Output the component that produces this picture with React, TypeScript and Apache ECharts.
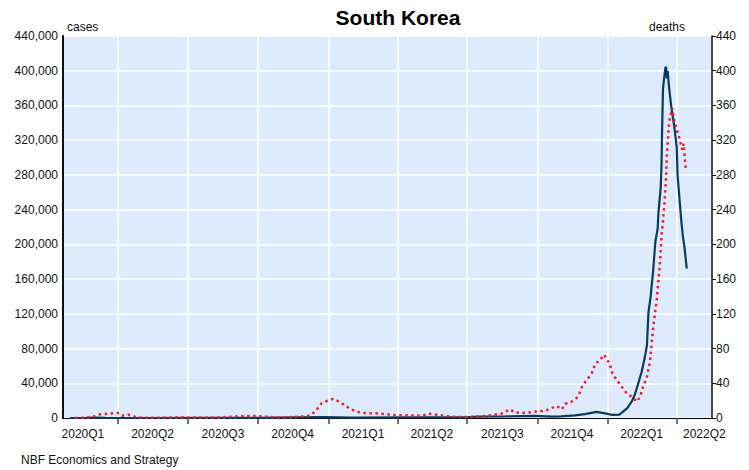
import React, { useEffect, useRef } from "react";
import * as echarts from "echarts";

// ---- Data ----
const caseDates = [
  "2020-01-29", "2020-02-20", "2020-03-01", "2020-03-15", "2020-05-01", "2020-08-28", "2020-09-20",
  "2020-12-25", "2021-02-01", "2021-04-20", "2021-07-01", "2021-07-14", "2021-08-20", "2021-09-28",
  "2021-10-20", "2021-11-01", "2021-11-19", "2021-12-02", "2021-12-17", "2021-12-30", "2022-01-07",
  "2022-01-16", "2022-01-26", "2022-02-01", "2022-02-05", "2022-02-09", "2022-02-14", "2022-02-18",
  "2022-02-21", "2022-02-22", "2022-02-23", "2022-02-26", "2022-02-27", "2022-03-01", "2022-03-04",
  "2022-03-07", "2022-03-08", "2022-03-11", "2022-03-12", "2022-03-13", "2022-03-14", "2022-03-17",
  "2022-03-18", "2022-03-19", "2022-03-20", "2022-03-22", "2022-03-25", "2022-03-29", "2022-04-01",
  "2022-04-02", "2022-04-05", "2022-04-07", "2022-04-09", "2022-04-11", "2022-04-14",
];
const caseValues = [
  0, 100, 600, 100, 10, 300, 100,
  1000, 400, 650, 700, 1500, 1800, 2500,
  1500, 1800, 3000, 4500, 7000, 5000, 3500,
  4000, 11000, 18800, 26500, 38000, 53000, 69000,
  84000, 103000, 122000, 141000, 151000, 168500, 203000,
  218000, 236000, 266000, 290000, 341000, 380000, 403000,
  404600, 391000, 400000, 380000, 357000, 334000, 311000,
  280000, 247000, 226000, 209000, 197000, 172000,
];

const deathDates = [
  "2020-02-05", "2020-02-18", "2020-03-02", "2020-03-06", "2020-03-15", "2020-03-24", "2020-03-31",
  "2020-04-06", "2020-04-14", "2020-04-21", "2020-04-27", "2020-05-20", "2020-06-20", "2020-07-20",
  "2020-08-10", "2020-08-28", "2020-09-14", "2020-09-23", "2020-10-03", "2020-10-20", "2020-11-12",
  "2020-12-04", "2020-12-10", "2020-12-14", "2020-12-23", "2020-12-30", "2021-01-07", "2021-01-13",
  "2021-01-22", "2021-01-29", "2021-02-08", "2021-02-20", "2021-03-05", "2021-03-18", "2021-03-29",
  "2021-04-21", "2021-05-04", "2021-05-11", "2021-05-23", "2021-06-09", "2021-06-25", "2021-07-18",
  "2021-07-31", "2021-08-15", "2021-08-26", "2021-09-01", "2021-09-10", "2021-09-21", "2021-10-04",
  "2021-10-10", "2021-10-17", "2021-10-26", "2021-11-02", "2021-11-06", "2021-11-12", "2021-11-21",
  "2021-11-25", "2021-11-29", "2021-12-04", "2021-12-11", "2021-12-16", "2021-12-21", "2021-12-27",
  "2021-12-31", "2022-01-03", "2022-01-07", "2022-01-14", "2022-01-19", "2022-01-26", "2022-02-01",
  "2022-02-08", "2022-02-12", "2022-02-16", "2022-02-21", "2022-02-25", "2022-02-27", "2022-03-01",
  "2022-03-04", "2022-03-06", "2022-03-10", "2022-03-12", "2022-03-16", "2022-03-18", "2022-03-19",
  "2022-03-22", "2022-03-26", "2022-03-28", "2022-04-01", "2022-04-05", "2022-04-08", "2022-04-10",
  "2022-04-11", "2022-04-13",
];
const deathValues = [
  0, 0.5, 2, 4, 4.5, 5.4, 6,
  2.6, 4, 1.7, 0.5, 0.3, 0.8, 0.5,
  0.5, 1.5, 2.3, 2.3, 2, 1, 1,
  2, 4.6, 7, 17, 19.6, 22, 19.6,
  15, 10.4, 7, 5.4, 5.4, 4.3, 3.1,
  3, 2.6, 5, 3.8, 1.5, 1, 1.5,
  3, 5, 10, 6.5, 5.8, 6.5, 8,
  8, 10.7, 13.8, 10, 16.5, 17.3, 23,
  29, 38, 43, 52, 63, 66, 73,
  67, 63, 51, 42, 36, 28, 24.6,
  18.8, 24.6, 36, 47.6, 65, 84, 103,
  124, 138, 178, 209, 248, 277, 303,
  341, 357, 345, 332, 320, 309, 316,
  303, 285,
];

const axisStart = "2020-01-20";
const axisEnd = "2022-05-17";
const quarterStarts = [
  "2020-04-01", "2020-07-01", "2020-10-01", "2021-01-01", "2021-04-01",
  "2021-07-01", "2021-10-01", "2022-01-01", "2022-04-01",
];
const quarterLabelDates = [
  "2020-02-15", "2020-05-16", "2020-08-16", "2020-11-15", "2021-02-15",
  "2021-05-16", "2021-08-16", "2021-11-15", "2022-02-14", "2022-05-07",
];
const quarterLabels = [
  "2020Q1", "2020Q2", "2020Q3", "2020Q4", "2021Q1",
  "2021Q2", "2021Q3", "2021Q4", "2022Q1", "2022Q2",
];

const FONT = "'Liberation Sans', Arial, Helvetica, sans-serif";

function ts(s: string): number {
  const [y, m, d] = s.split("-").map(Number);
  return Date.UTC(y, m - 1, d);
}

export default function App() {
  const ref = useRef<HTMLDivElement>(null);

  useEffect(() => {
    if (!ref.current) return;
    const chart = echarts.init(ref.current, null, { renderer: "svg" });
    const labelTs = quarterLabelDates.map(ts);

    const option: any = {
      animation: false,
      backgroundColor: "#ffffff",
      grid: {
        left: 63,
        right: 37,
        top: 36,
        bottom: 52,
        show: true,
        backgroundColor: "#DDEAFB",
        borderWidth: 0,
      },
      xAxis: {
        type: "value",
        min: ts(axisStart),
        max: ts(axisEnd),
        axisLine: { show: true, onZero: false, lineStyle: { color: "#000", width: 1 } },
        axisTick: {
          show: true,
          length: 6,
          customValues: quarterStarts.map(ts),
          lineStyle: { color: "#444", width: 1.5 },
        },
        splitLine: {
          show: true,
          lineStyle: { color: "#ffffff", width: 1.5 },
        },
        axisLabel: {
          customValues: labelTs,
          margin: 10,
          fontSize: 12,
          color: "#111",
          fontFamily: FONT,
          showMinLabel: true,
          showMaxLabel: true,
          formatter: (v: number) => {
            let best = 0;
            for (let i = 1; i < labelTs.length; i++) {
              if (Math.abs(labelTs[i] - v) < Math.abs(labelTs[best] - v)) best = i;
            }
            return quarterLabels[best];
          },
        },
      },
      yAxis: [
        {
          type: "value",
          position: "left",
          min: 0,
          max: 440000,
          interval: 40000,
          axisLine: { show: true, lineStyle: { color: "#111", width: 2 } },
          axisTick: { show: false },
          splitLine: { show: true, lineStyle: { color: "#ffffff", width: 1.5 } },
          axisLabel: {
            margin: 5,
            fontSize: 12,
            color: "#111",
            fontFamily: FONT,
            formatter: (v: number) => v.toLocaleString("en-US"),
          },
        },
        {
          type: "value",
          position: "right",
          min: 0,
          max: 440,
          interval: 40,
          axisLine: { show: true, lineStyle: { color: "#111", width: 1.5 } },
          axisTick: { show: true, length: 4, lineStyle: { color: "#111", width: 1 } },
          splitLine: { show: false },
          axisLabel: {
            margin: 4,
            fontSize: 12,
            color: "#111",
            fontFamily: FONT,
          },
        },
      ],
      graphic: [
        {
          type: "text",
          x: 398,
          y: 17,
          style: {
            text: "South Korea",
            fontSize: 21,
            fontWeight: "bold",
            fontFamily: FONT,
            fill: "#000",
            textAlign: "center",
            textVerticalAlign: "middle",
          },
        },
        {
          type: "text",
          x: 67,
          y: 27,
          style: { text: "cases", fontSize: 12, fontFamily: FONT, fill: "#111", textVerticalAlign: "middle" },
        },
        {
          type: "text",
          x: 649,
          y: 27,
          style: { text: "deaths", fontSize: 12, fontFamily: FONT, fill: "#111", textVerticalAlign: "middle" },
        },
        {
          type: "text",
          x: 21,
          y: 460,
          style: {
            text: "NBF Economics and Strategy",
            fontSize: 12,
            fontFamily: FONT,
            fill: "#111",
            textVerticalAlign: "middle",
          },
        },
      ],
      series: [
        {
          name: "cases",
          type: "line",
          yAxisIndex: 0,
          showSymbol: false,
          data: caseDates.map((d, i) => [ts(d), caseValues[i]]),
          lineStyle: { color: "#0B3A5D", width: 2.2 },
          z: 2,
        },
        {
          name: "deaths",
          type: "line",
          yAxisIndex: 1,
          showSymbol: false,
          data: deathDates.map((d, i) => [ts(d), deathValues[i]]),
          lineStyle: { color: "#EE1C2E", width: 2.5, type: [2.5, 3.5] },
          z: 3,
        },
      ],
    };
    chart.setOption(option);
    return () => chart.dispose();
  }, []);

  return (
    <div
      ref={ref}
      style={{ position: "absolute", left: 0, top: 0, width: 749, height: 470 }}
    />
  );
}
